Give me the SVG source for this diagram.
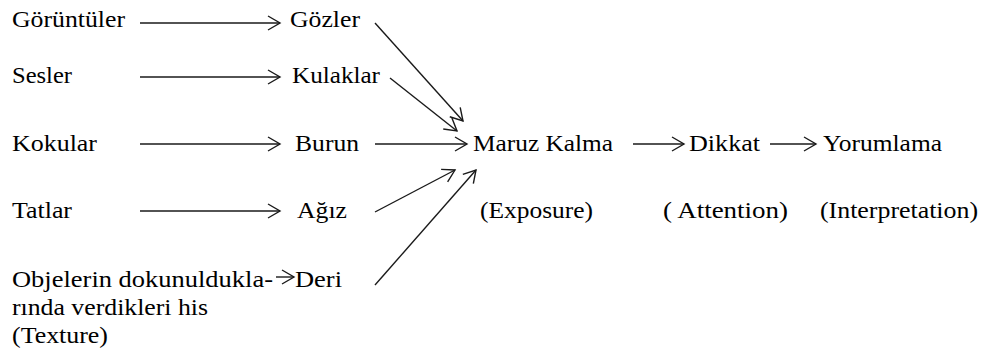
<svg xmlns="http://www.w3.org/2000/svg" width="988" height="355" viewBox="0 0 988 355">
  <style>
    .t { font-family: 'Liberation Serif', 'Times New Roman', serif; font-size: 24px; fill: #000; }
    .edge { stroke: #1a1a1a; stroke-width: 1.4; fill: none; marker-end: url(#head); }
  </style>
  <defs>
    <marker id="head" markerUnits="userSpaceOnUse" markerWidth="16" markerHeight="18" viewBox="-14 -9 16 18" refX="0" refY="0" orient="auto">
      <path d="M-12,-7 L0,0 L-12,7" fill="none" stroke="#1a1a1a" stroke-width="1.4"/>
    </marker>
  </defs>
  <rect width="988" height="355" fill="#fff"/>

  <g class="t" lengthAdjust="spacingAndGlyphs">
    <!-- stimuli -->
    <g id="goruntuler"><text x="12" y="27" textLength="113" lengthAdjust="spacingAndGlyphs">Görüntüler</text></g>
    <g id="sesler"><text x="12" y="83" textLength="60" lengthAdjust="spacingAndGlyphs">Sesler</text></g>
    <g id="kokular"><text x="12" y="151" textLength="85" lengthAdjust="spacingAndGlyphs">Kokular</text></g>
    <g id="tatlar"><text x="12" y="218" textLength="60" lengthAdjust="spacingAndGlyphs">Tatlar</text></g>
    <g id="objeler">
      <text x="12" y="287" textLength="261" lengthAdjust="spacingAndGlyphs">Objelerin dokunuldukla-</text>
      <text x="12" y="315" textLength="196" lengthAdjust="spacingAndGlyphs">rında verdikleri his</text>
      <text x="12" y="343" textLength="96" lengthAdjust="spacingAndGlyphs">(Texture)</text>
    </g>

    <!-- sense organs -->
    <g id="gozler"><text x="290" y="27" textLength="70" lengthAdjust="spacingAndGlyphs">Gözler</text></g>
    <g id="kulaklar"><text x="292" y="83" textLength="88" lengthAdjust="spacingAndGlyphs">Kulaklar</text></g>
    <g id="burun"><text x="295" y="151" textLength="64" lengthAdjust="spacingAndGlyphs">Burun</text></g>
    <g id="agiz"><text x="297" y="218" textLength="50" lengthAdjust="spacingAndGlyphs">Ağız</text></g>
    <g id="deri"><text x="295" y="287" textLength="47" lengthAdjust="spacingAndGlyphs">Deri</text></g>

    <!-- stages -->
    <g id="maruz-kalma">
      <text x="473" y="151" textLength="140" lengthAdjust="spacingAndGlyphs">Maruz Kalma</text>
      <text x="480" y="218" textLength="113" lengthAdjust="spacingAndGlyphs">(Exposure)</text>
    </g>
    <g id="dikkat">
      <text x="689" y="151" textLength="71" lengthAdjust="spacingAndGlyphs">Dikkat</text>
      <text x="663" y="218" textLength="125" lengthAdjust="spacingAndGlyphs">( Attention)</text>
    </g>
    <g id="yorumlama">
      <text x="823" y="151" textLength="119" lengthAdjust="spacingAndGlyphs">Yorumlama</text>
      <text x="820" y="218" textLength="158" lengthAdjust="spacingAndGlyphs">(Interpretation)</text>
    </g>
  </g>

  <g id="connectors">
    <!-- stimulus to sense organ -->
    <line class="edge" x1="140" y1="23" x2="280" y2="23"/>
    <line class="edge" x1="140" y1="77" x2="280" y2="77"/>
    <line class="edge" x1="140" y1="144" x2="280" y2="144"/>
    <line class="edge" x1="140" y1="211" x2="280" y2="211"/>
    <line class="edge" x1="276" y1="277" x2="294" y2="277"/>

    <!-- sense organ to exposure -->
    <line class="edge" x1="375" y1="23" x2="463" y2="121"/>
    <line class="edge" x1="390" y1="78" x2="457" y2="131"/>
    <line class="edge" x1="375" y1="144" x2="467" y2="144"/>
    <line class="edge" x1="375" y1="212" x2="455" y2="170"/>
    <line class="edge" x1="375" y1="285" x2="476" y2="170"/>

    <!-- exposure, attention, interpretation -->
    <line class="edge" x1="633" y1="144" x2="684" y2="144"/>
    <line class="edge" x1="770" y1="144" x2="816" y2="144"/>
  </g>
</svg>
